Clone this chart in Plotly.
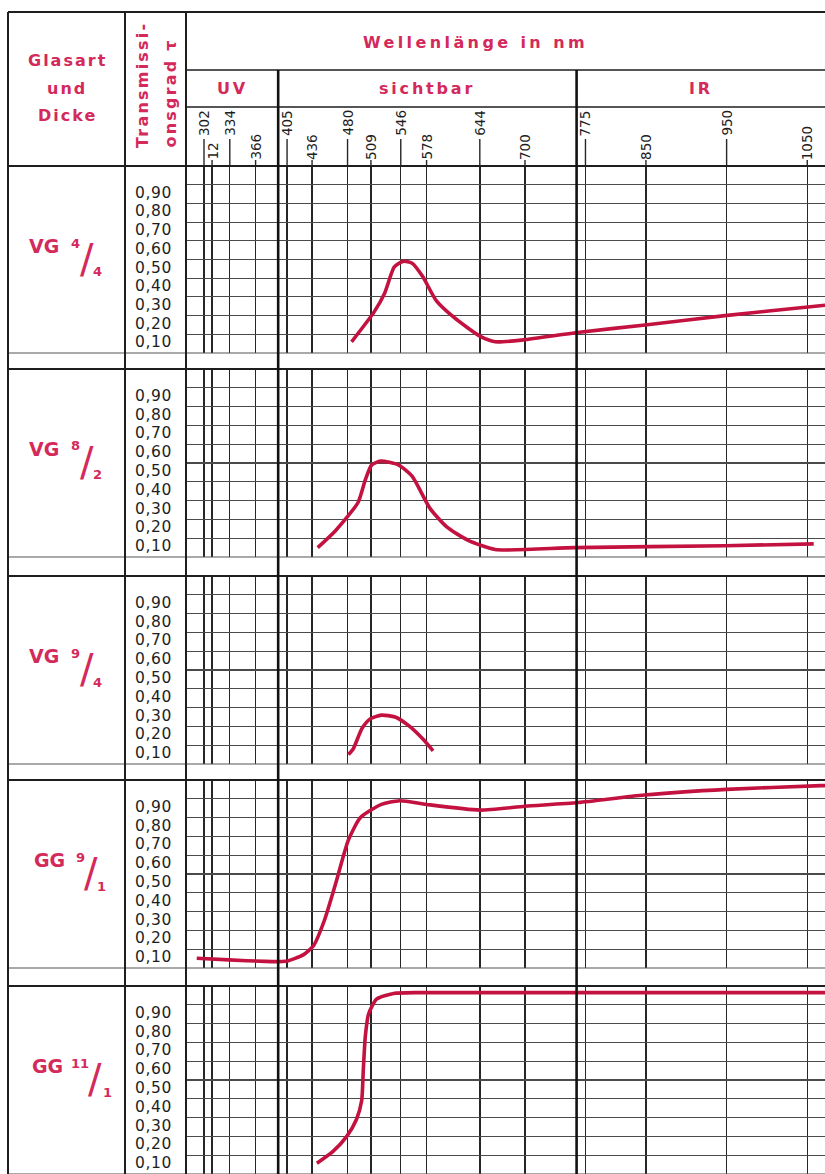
import plotly.graph_objects as go

# ---------------- data ----------------
wl_ticks = [302, 312, 334, 366, 405, 436, 480, 509, 546, 578, 644, 700, 775, 850, 950, 1050]
wl_tick_text = ["302", "12", "334", "366", "405", "436", "480", "509", "546", "578",
                "644", "700", "775", "850", "950", "1050"]
wl_tick_row = ["hi", "lo", "hi", "lo", "hi", "lo", "hi", "lo", "hi", "lo",
               "hi", "lo", "hi", "lo", "hi", "lo"]
region_bounds = [394, 764]
region_names = ["UV", "sichtbar", "IR"]
wl_range = [279.7, 1072]

t_ticks = [0.1, 0.2, 0.3, 0.4, 0.5, 0.6, 0.7, 0.8, 0.9]
t_tick_text = ["0,10", "0,20", "0,30", "0,40", "0,50", "0,60", "0,70", "0,80", "0,90"]

glass_type = ["VG", "VG", "VG", "GG", "GG"]
glass_num = ["4", "8", "9", "9", "11"]
glass_thick = ["4", "2", "4", "1", "1"]

vg4_wl = [485, 513, 526, 538, 549, 560, 573, 590, 612, 644, 663, 698, 765, 849, 948, 1060, 1072]
vg4_t = [0.06, 0.22, 0.32, 0.46, 0.49, 0.48, 0.41, 0.28, 0.19, 0.09, 0.06, 0.07, 0.11, 0.15, 0.20, 0.25, 0.255]

vg8_wl = [443, 465, 493, 502, 510, 521, 543, 560, 582, 603, 629, 663, 762, 948, 1058]
vg8_t = [0.05, 0.14, 0.29, 0.41, 0.49, 0.51, 0.49, 0.43, 0.26, 0.16, 0.09, 0.04, 0.05, 0.06, 0.07]

vg9_wl = [481, 487, 498, 508, 522, 539, 557, 574, 586]
vg9_t = [0.05, 0.08, 0.19, 0.24, 0.26, 0.25, 0.20, 0.13, 0.07]

gg9_wl = [293, 333, 378, 395, 405, 425, 438, 451, 466, 481, 496, 522, 545, 578, 644, 700, 766, 848, 950, 1067, 1072]
gg9_t = [0.052, 0.043, 0.035, 0.034, 0.037, 0.07, 0.12, 0.25, 0.46, 0.68, 0.80, 0.87, 0.89, 0.87,
         0.84, 0.86, 0.88, 0.92, 0.95, 0.97, 0.97]

gg11_wl = [442, 462, 479, 491, 497.5, 499.5, 502, 506, 516, 537, 570, 1072]
gg11_t = [0.057, 0.12, 0.20, 0.29, 0.39, 0.55, 0.73, 0.85, 0.93, 0.96, 0.965, 0.965]

curves = [(vg4_wl, vg4_t), (vg8_wl, vg8_t), (vg9_wl, vg9_t), (gg9_wl, gg9_t), (gg11_wl, gg11_t)]

# ---------------- layout constants (pixels) ----------------
W, H = 825, 1174
LEFT, COL1, COL2, RIGHT = 8, 125, 186, 825
TOP, ROW1, ROW2 = 12, 70, 107
panel_top = [166, 369, 576, 780, 986]
panel_bot = [353, 557, 764, 968, 1174]
label_x = [(44, 75, 87, 97), (44, 75, 87, 97), (44, 75, 87, 97), (49, 80, 91, 101), (47, 80, 95, 107)]

TEXT_RED = "#d3295b"
CURVE_RED = "#c3123f"
INK = "#1e1e1e"
FONT = "DejaVu Sans"


def xp(px):
    return px / W


def yp(px):
    return 1 - px / H


fig = go.Figure()
layout = dict(
    width=W, height=H, margin=dict(l=0, r=0, t=0, b=0),
    paper_bgcolor="white", plot_bgcolor="white", showlegend=False,
)

for i, (wl, t) in enumerate(curves):
    k = "" if i == 0 else str(i + 1)
    fig.add_trace(go.Scatter(
        x=wl, y=t, mode="lines",
        line=dict(color=CURVE_RED, width=3.6, shape="spline", smoothing=0.6),
        xaxis="x" + k, yaxis="y" + k, hoverinfo="skip",
    ))
    layout["xaxis" + k] = dict(
        domain=[xp(COL2), 1], range=wl_range, anchor="y" + k,
        tickvals=wl_ticks, showticklabels=False, ticks="",
        showgrid=True, gridcolor="#262626", gridwidth=1.4,
        zeroline=False, showline=False, fixedrange=True,
    )
    layout["yaxis" + k] = dict(
        domain=[yp(panel_bot[i]), yp(panel_top[i])], range=[0, 1], anchor="x" + k,
        tickvals=t_ticks, showticklabels=False, ticks="",
        showgrid=True, gridcolor="#4a4a4a", gridwidth=1.1,
        zeroline=False, showline=False, fixedrange=True,
    )

shapes = []


def hline(y, x0, x1, w=1.6, c=INK):
    shapes.append(dict(type="line", xref="paper", yref="paper", x0=xp(x0), x1=xp(x1),
                       y0=yp(y), y1=yp(y), line=dict(color=c, width=w)))


def vline(x, y0, y1, w=1.6, c=INK):
    shapes.append(dict(type="line", xref="paper", yref="paper", x0=xp(x), x1=xp(x),
                       y0=yp(y0), y1=yp(y1), line=dict(color=c, width=w)))


# table frame
hline(TOP, LEFT, RIGHT, 2)
hline(ROW1, COL2, RIGHT, 1.6)
hline(ROW2, COL2, RIGHT, 1.6)
for i in range(5):
    hline(panel_top[i], LEFT, RIGHT, 2 if i == 0 else 1.8)
    hline(panel_bot[i], LEFT, RIGHT, 1.2, "#555")
vline(LEFT, TOP, H, 2)
vline(COL1, TOP, H, 2)
vline(COL2, TOP, H, 2)

# heavy region boundaries
for b in region_bounds:
    shapes.append(dict(type="line", xref="x", yref="paper", x0=b, x1=b,
                       y0=yp(ROW1), y1=0, line=dict(color="#111", width=2.6)))

# tick marks in header
for v, r in zip(wl_ticks, wl_tick_row):
    top_y = 139 if r == "hi" else 160
    shapes.append(dict(type="line", xref="x", yref="paper", x0=v, x1=v,
                       y0=yp(panel_top[0]), y1=yp(top_y), line=dict(color="#262626", width=1.4)))

annotations = []


def ann(text, x, y, size, color=TEXT_RED, xanchor="center", yanchor="middle", angle=0,
        weight="normal", xref="paper", yref="paper", family=FONT, yshift=0):
    annotations.append(dict(
        text=text, x=x, y=y, xref=xref, yref=yref, showarrow=False,
        xanchor=xanchor, yanchor=yanchor, textangle=angle, yshift=yshift,
        font=dict(size=size, color=color, family=family, weight=weight),
    ))


def spaced(s, px):
    return '<span style="letter-spacing:%spx">%s</span>' % (px, s)


# header texts
ann(spaced("Glasart", 2), xp(67), yp(60), 16, weight="bold")
ann(spaced("und", 2), xp(67), yp(88), 16, weight="bold")
ann(spaced("Dicke", 2), xp(67), yp(115), 16, weight="bold")
ann(spaced("Transmissi-", 2.2), xp(142), yp(150), 16, angle=-90, yanchor="bottom", weight="bold")
ann(spaced("onsgrad τ", 2.2), xp(170), yp(150), 16, angle=-90, yanchor="bottom", weight="bold")
ann(spaced("Wellenlänge in nm", 3.4), xp(475), yp(42), 16, weight="bold")

region_edges = [wl_range[0]] + region_bounds + [wl_range[1]]
for j, name in enumerate(region_names):
    mid = (region_edges[j] + region_edges[j + 1]) / 2
    ann(spaced(name, 2.8), mid, yp(88), 16, weight="bold", xref="x")

# wavelength tick labels
for v, s, r in zip(wl_ticks, wl_tick_text, wl_tick_row):
    if r == "hi":
        ann(s, v, yp(108), 13.5, color=INK, angle=-90, yanchor="top", xref="x")
    else:
        ann(s, v, yp(162), 13.5, color=INK, angle=-90, yanchor="bottom", xref="x")

# transmission labels and glass names per panel
for i in range(5):
    k = "" if i == 0 else str(i + 1)
    for v, s in zip(t_ticks, t_tick_text):
        ann(spaced(s, 0.6), xp(174), v, 15.5, color=INK, xanchor="right", yanchor="top",
            yref="y" + k, yshift=3)
    top = panel_top[i]
    lx = label_x[i]
    ann(glass_type[i], xp(lx[0]), yp(top + 80), 19, weight="bold")
    ann(glass_num[i], xp(lx[1]), yp(top + 77), 13, weight="bold")
    ann("/", xp(lx[2]), yp(top + 93), 40)
    ann(glass_thick[i], xp(lx[3]), yp(top + 106), 13, weight="bold")

layout["shapes"] = shapes
layout["annotations"] = annotations
fig.update_layout(**layout)

fig.write_html("out.html", config={"displayModeBar": False, "staticPlot": True},
               post_script="document.body.style.margin='0';")
